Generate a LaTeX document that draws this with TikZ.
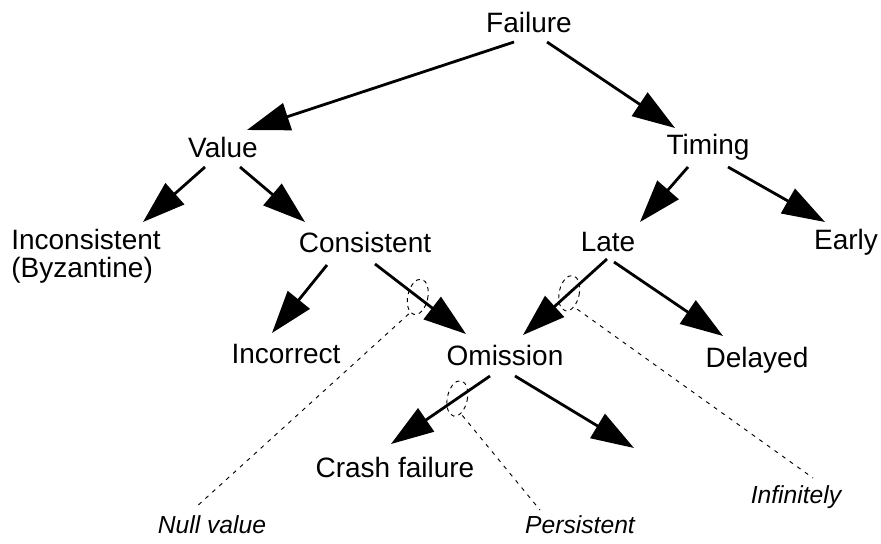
\documentclass[tikz,border=0pt]{standalone}
\usepackage{fontspec}
\setmainfont{Liberation Sans}
\usetikzlibrary{arrows.meta,shapes.geometric}
\begin{document}
\begin{tikzpicture}[x=0.75pt,y=-0.75pt,
  lbl/.style={inner sep=0pt, font=\fontsize{21}{21}\selectfont},
  note/.style={inner sep=0pt, font=\fontsize{18.5}{19}\selectfont\itshape},
  arr/.style={line width=2.1pt, -{Triangle[length=32pt,width=21pt]}},
  lead/.style={line width=0.7pt, dash pattern=on 3pt off 4pt},
  ring/.style={draw, ellipse, line width=0.7pt, dash pattern=on 3pt off 3pt,
    inner sep=0pt, minimum width=15pt, minimum height=27pt, sloped=false}]
\useasboundingbox (0,0) rectangle (881,543);
% nodes
\node[lbl] (fail) at (529,22) {Failure};
\node[lbl] (val) at (223,147) {Value};
\node[lbl] (tim) at (708,147) {Timing};
\node[lbl, anchor=west, align=left] (inc) at (11,256) {Inconsistent\\(Byzantine)};
\node[lbl] (con) at (365,242) {Consistent};
\node[lbl] (late) at (608,242) {Late};
\node[lbl] (early) at (846,242) {Early};
\node[lbl] (incor) at (286,354) {Incorrect};
\node[lbl] (omi) at (505,355) {Omission};
\node[lbl] (del) at (757,360) {Delayed};
\node[lbl] (crash) at (395,467) {Crash failure};
\node[note] (inf) at (796,497) {Infinitely};
\node[note] (null) at (212,525) {Null value};
\node[note] (pers) at (580,525) {Persistent};
\coordinate (open) at (634,448);
% arrows
\draw[arr] ([shift={(-15,20)}]fail.center) -- ([shift={(24,-17)}]val.center);
\draw[arr] ([shift={(18,20)}]fail.center) -- ([shift={(-33,-19)}]tim.center);
\draw[arr] ([shift={(-18,20)}]val.center) -- ([shift={(132,-34)}]inc.west);
\draw[arr] ([shift={(17,20)}]val.center) -- ([shift={(-60,-20)}]con.center);
\draw[arr] ([shift={(-20,20)}]tim.center) -- ([shift={(32,-20)}]late.center);
\draw[arr] ([shift={(20,20)}]tim.center) -- ([shift={(-21,-20)}]early.center);
\draw[arr] ([shift={(-38,23)}]con.center) -- ([shift={(-14,-21)}]incor.center);
\draw[arr] ([shift={(10,22)}]con.center) -- node[ring, pos=0.47, rotate=-12] (e1) {} ([shift={(-39,-21)}]omi.center);
\draw[arr] ([shift={(-1,17)}]late.center) -- node[ring, pos=0.45, rotate=-12] (e2) {} ([shift={(18,-20)}]omi.center);
\draw[arr] ([shift={(6,20)}]late.center) -- ([shift={(-34,-24)}]del.center);
\draw[arr] ([shift={(-15,21)}]omi.center) -- node[ring, pos=0.33, rotate=-12] (e3) {} ([shift={(-4,-23)}]crash.center);
\draw[arr] ([shift={(10,21)}]omi.center) -- (open);
% leaders
\draw[lead] ([shift={(-9,17)}]e1.center) -- ([shift={(-17,-17)}]null.center);
\draw[lead] ([shift={(8,16)}]e2.center) -- ([shift={(17,-19)}]inf.center);
\draw[lead] ([shift={(5,17)}]e3.center) -- ([shift={(-40,-15)}]pers.center);
\end{tikzpicture}
\end{document}
